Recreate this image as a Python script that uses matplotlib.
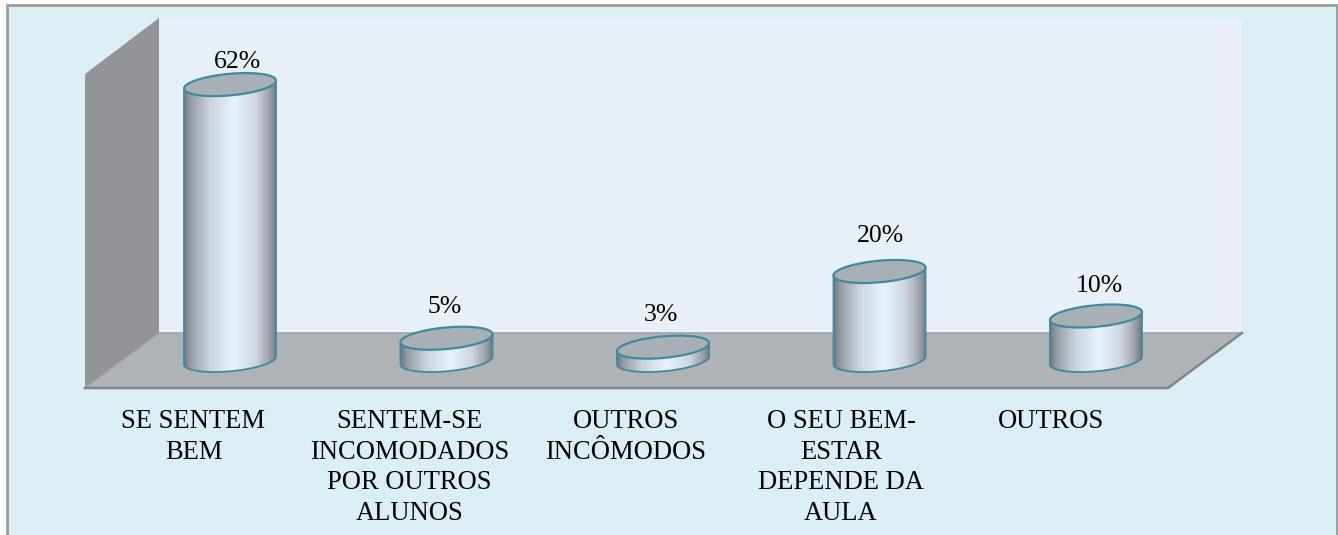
import numpy as np
import matplotlib
matplotlib.use('Agg')
import matplotlib.pyplot as plt
from matplotlib.colors import LinearSegmentedColormap
from matplotlib.patches import PathPatch, Polygon, Rectangle
from matplotlib.path import Path

categories = ['SE SENTEM\nBEM', 'SENTEM-SE\nINCOMODADOS\nPOR OUTROS\nALUNOS', 'OUTROS\nINCÔMODOS',
              'O SEU BEM-\nESTAR\nDEPENDE DA\nAULA', 'OUTROS']
values = [62, 5, 3, 20, 10]

W, H = 1338, 535
X0, DX = 230, 216.5      # pixel of first bar, pixels between bars
Y0, PCT = 360.5, 4.45    # pixel of value 0, pixels per percent
HALF_W, TILT, MINOR = 46.0, 4.0, 10.8

plt.rcParams['font.family'] = ['Liberation Serif', 'DejaVu Serif']

fig = plt.figure(figsize=(W / 100, H / 100), dpi=100, facecolor='white')

# frame and 3D walls, in pixels
bg = fig.add_axes([0, 0, 1, 1])
bg.set_xlim(0, W)
bg.set_ylim(H, 0)
bg.axis('off')
bg.add_patch(Rectangle((7, 4.5), 1329.5, 540, fc='#dbeef4', ec='#9c9c9c', lw=2))
bg.add_patch(Rectangle((159, 18), 1083, 315, fc='#e8f0f7', ec='none'))
bg.add_patch(Polygon([(85, 74), (159, 18), (159, 333), (85, 388)], fc='#929497', ec='none'))
bg.add_patch(Polygon([(85, 388), (159, 333), (1242, 333), (1168, 388)], fc='#b0b3b6', ec='none'))
bg.plot([159, 1242], [333, 333], color='#a2a4a6', lw=1.2)
bg.plot([85, 159], [388, 333], color='#a0a2a4', lw=1)
bg.plot([85, 1168, 1242], [388, 388, 333], color='#838588', lw=1.8)

# chart values on top, x in category index, y in percent
ax = fig.add_axes([0, 0, 1, 1])
ax.patch.set_alpha(0)
ax.axis('off')
xlim = (-X0 / DX, (W - X0) / DX)
ylim = ((Y0 - H) / PCT, Y0 / PCT)

shade = LinearSegmentedColormap.from_list('cyl', [
    (0.0, '#737a84'), (0.07, '#979da7'), (0.28, '#ccd5df'), (0.54, '#e7f3ff'),
    (0.78, '#ccd4dd'), (0.93, '#9a9fa7'), (1.0, '#73777f')])
grad = np.linspace(0, 1, 200).reshape(1, -1)

hw = HALF_W / DX
t = np.linspace(0, 2 * np.pi, 121)
front = np.linspace(np.pi, 0, 61)   # lower half, left to right

for i, v in enumerate(values):
    # outline of the body: lower arc and the same arc moved up to the top
    bx = i + hw * np.cos(front)
    by = (TILT * np.cos(front) - MINOR * np.sin(front)) / PCT
    tx = i + hw * np.cos(t)
    ty = v + (TILT * np.cos(t) + MINOR * np.sin(t)) / PCT
    body = np.column_stack([np.r_[bx, bx[::-1]], np.r_[by, (by + v)[::-1]]])
    clip = PathPatch(Path(np.vstack([body, body[:1]])), fc='none', ec='none', transform=ax.transData)
    ax.add_patch(clip)
    im = ax.imshow(grad, cmap=shade, extent=(i - hw, i + hw, -4, v + 4), aspect='auto',
                   vmin=0, vmax=1, zorder=2, interpolation='bilinear')
    im.set_clip_path(clip)
    ax.plot(np.r_[bx[0], bx, bx[-1]], np.r_[v + by[0], by, v + by[-1]],
            color='#3f8a9e', lw=1.3, zorder=3)
    ax.fill(tx, ty, fc='#a8afb5', ec='#3f8a9e', lw=1.6, zorder=4)

# value labels, offsets in px to match the skew of the original
label_dx = [8, -2, -2, 1, 3]
label_dy = [23, 31, 32, 35, 30]
for i, v in enumerate(values):
    ax.text(i + label_dx[i] / DX, v + label_dy[i] / PCT, f'{v}%', ha='center', va='center',
            fontsize=18.5, color='black', zorder=5)

cat_dx = [-36.5, -37, -37.5, -38.5, -45]
for i, c in enumerate(categories):
    ax.text(i + cat_dx[i] / DX, (Y0 - 409) / PCT, c, ha='center', va='top',
            fontsize=19.1, color='black', linespacing=1.3, zorder=5)

ax.set_xlim(xlim)
ax.set_ylim(ylim)

fig.savefig('out.png', dpi=100, facecolor='white')
